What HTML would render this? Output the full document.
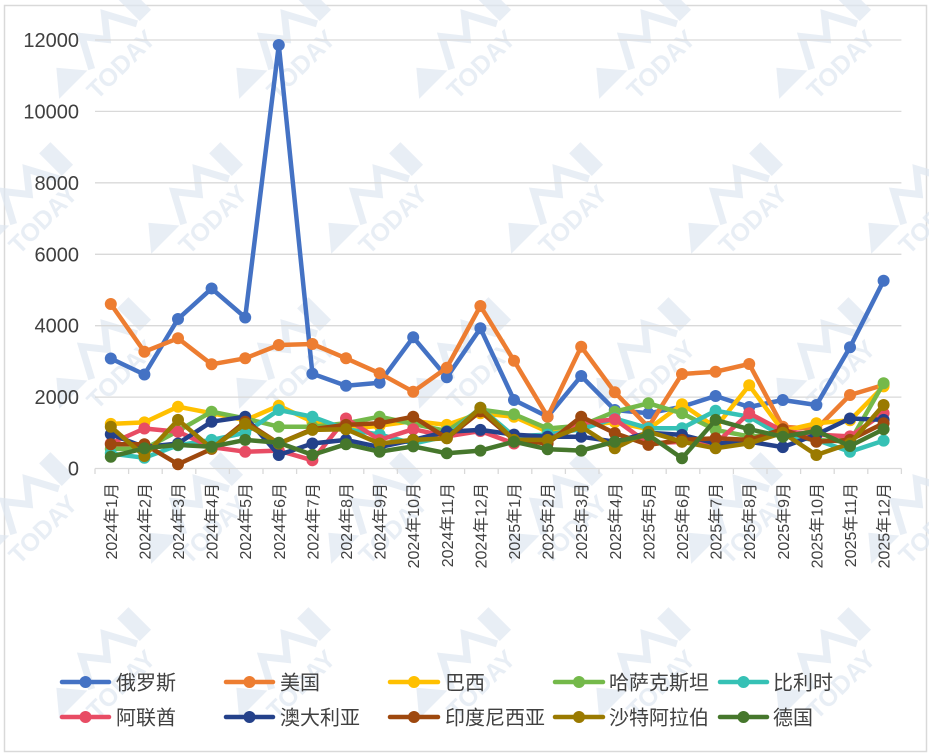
<!DOCTYPE html>
<html><head><meta charset="utf-8"><style>
html,body{margin:0;padding:0;background:#fff;}
svg{display:block;}
text{font-family:"Liberation Sans","Noto Sans CJK SC",sans-serif;}
</style></head><body>
<svg width="929" height="755" viewBox="0 0 929 755" xmlns="http://www.w3.org/2000/svg">
<rect x="0" y="0" width="929" height="755" fill="#fff"/>
<rect x="4.5" y="5.5" width="922" height="746" fill="none" stroke="#d9d9d9" stroke-width="1.5"/>

<!-- watermarks -->
<g fill="#dfe7f1" opacity="0.7">
<g transform="translate(103,55) rotate(-45)"><path d="M-62,0 L-42,-24 L-22,0 Z"/><path d="M-18,2 L-2,-28 L14,-8 L30,-28 L46,2" fill="none" stroke="#dfe7f1" stroke-width="7"/><rect x="50" y="-30" width="16" height="32"/><text x="6" y="28" font-size="25" font-weight="bold" text-anchor="middle">TODAY</text></g>
<g transform="translate(283,55) rotate(-45)"><path d="M-62,0 L-42,-24 L-22,0 Z"/><path d="M-18,2 L-2,-28 L14,-8 L30,-28 L46,2" fill="none" stroke="#dfe7f1" stroke-width="7"/><rect x="50" y="-30" width="16" height="32"/><text x="6" y="28" font-size="25" font-weight="bold" text-anchor="middle">TODAY</text></g>
<g transform="translate(463,55) rotate(-45)"><path d="M-62,0 L-42,-24 L-22,0 Z"/><path d="M-18,2 L-2,-28 L14,-8 L30,-28 L46,2" fill="none" stroke="#dfe7f1" stroke-width="7"/><rect x="50" y="-30" width="16" height="32"/><text x="6" y="28" font-size="25" font-weight="bold" text-anchor="middle">TODAY</text></g>
<g transform="translate(643,55) rotate(-45)"><path d="M-62,0 L-42,-24 L-22,0 Z"/><path d="M-18,2 L-2,-28 L14,-8 L30,-28 L46,2" fill="none" stroke="#dfe7f1" stroke-width="7"/><rect x="50" y="-30" width="16" height="32"/><text x="6" y="28" font-size="25" font-weight="bold" text-anchor="middle">TODAY</text></g>
<g transform="translate(823,55) rotate(-45)"><path d="M-62,0 L-42,-24 L-22,0 Z"/><path d="M-18,2 L-2,-28 L14,-8 L30,-28 L46,2" fill="none" stroke="#dfe7f1" stroke-width="7"/><rect x="50" y="-30" width="16" height="32"/><text x="6" y="28" font-size="25" font-weight="bold" text-anchor="middle">TODAY</text></g>

<g transform="translate(25,210) rotate(-45)"><path d="M-62,0 L-42,-24 L-22,0 Z"/><path d="M-18,2 L-2,-28 L14,-8 L30,-28 L46,2" fill="none" stroke="#dfe7f1" stroke-width="7"/><rect x="50" y="-30" width="16" height="32"/><text x="6" y="28" font-size="25" font-weight="bold" text-anchor="middle">TODAY</text></g>
<g transform="translate(195,210) rotate(-45)"><path d="M-62,0 L-42,-24 L-22,0 Z"/><path d="M-18,2 L-2,-28 L14,-8 L30,-28 L46,2" fill="none" stroke="#dfe7f1" stroke-width="7"/><rect x="50" y="-30" width="16" height="32"/><text x="6" y="28" font-size="25" font-weight="bold" text-anchor="middle">TODAY</text></g>
<g transform="translate(375,210) rotate(-45)"><path d="M-62,0 L-42,-24 L-22,0 Z"/><path d="M-18,2 L-2,-28 L14,-8 L30,-28 L46,2" fill="none" stroke="#dfe7f1" stroke-width="7"/><rect x="50" y="-30" width="16" height="32"/><text x="6" y="28" font-size="25" font-weight="bold" text-anchor="middle">TODAY</text></g>
<g transform="translate(555,210) rotate(-45)"><path d="M-62,0 L-42,-24 L-22,0 Z"/><path d="M-18,2 L-2,-28 L14,-8 L30,-28 L46,2" fill="none" stroke="#dfe7f1" stroke-width="7"/><rect x="50" y="-30" width="16" height="32"/><text x="6" y="28" font-size="25" font-weight="bold" text-anchor="middle">TODAY</text></g>
<g transform="translate(735,210) rotate(-45)"><path d="M-62,0 L-42,-24 L-22,0 Z"/><path d="M-18,2 L-2,-28 L14,-8 L30,-28 L46,2" fill="none" stroke="#dfe7f1" stroke-width="7"/><rect x="50" y="-30" width="16" height="32"/><text x="6" y="28" font-size="25" font-weight="bold" text-anchor="middle">TODAY</text></g>
<g transform="translate(915,210) rotate(-45)"><path d="M-62,0 L-42,-24 L-22,0 Z"/><path d="M-18,2 L-2,-28 L14,-8 L30,-28 L46,2" fill="none" stroke="#dfe7f1" stroke-width="7"/><rect x="50" y="-30" width="16" height="32"/><text x="6" y="28" font-size="25" font-weight="bold" text-anchor="middle">TODAY</text></g>

<g transform="translate(103,365) rotate(-45)"><path d="M-62,0 L-42,-24 L-22,0 Z"/><path d="M-18,2 L-2,-28 L14,-8 L30,-28 L46,2" fill="none" stroke="#dfe7f1" stroke-width="7"/><rect x="50" y="-30" width="16" height="32"/><text x="6" y="28" font-size="25" font-weight="bold" text-anchor="middle">TODAY</text></g>
<g transform="translate(283,365) rotate(-45)"><path d="M-62,0 L-42,-24 L-22,0 Z"/><path d="M-18,2 L-2,-28 L14,-8 L30,-28 L46,2" fill="none" stroke="#dfe7f1" stroke-width="7"/><rect x="50" y="-30" width="16" height="32"/><text x="6" y="28" font-size="25" font-weight="bold" text-anchor="middle">TODAY</text></g>
<g transform="translate(463,365) rotate(-45)"><path d="M-62,0 L-42,-24 L-22,0 Z"/><path d="M-18,2 L-2,-28 L14,-8 L30,-28 L46,2" fill="none" stroke="#dfe7f1" stroke-width="7"/><rect x="50" y="-30" width="16" height="32"/><text x="6" y="28" font-size="25" font-weight="bold" text-anchor="middle">TODAY</text></g>
<g transform="translate(643,365) rotate(-45)"><path d="M-62,0 L-42,-24 L-22,0 Z"/><path d="M-18,2 L-2,-28 L14,-8 L30,-28 L46,2" fill="none" stroke="#dfe7f1" stroke-width="7"/><rect x="50" y="-30" width="16" height="32"/><text x="6" y="28" font-size="25" font-weight="bold" text-anchor="middle">TODAY</text></g>
<g transform="translate(823,365) rotate(-45)"><path d="M-62,0 L-42,-24 L-22,0 Z"/><path d="M-18,2 L-2,-28 L14,-8 L30,-28 L46,2" fill="none" stroke="#dfe7f1" stroke-width="7"/><rect x="50" y="-30" width="16" height="32"/><text x="6" y="28" font-size="25" font-weight="bold" text-anchor="middle">TODAY</text></g>

<g transform="translate(25,520) rotate(-45)"><path d="M-62,0 L-42,-24 L-22,0 Z"/><path d="M-18,2 L-2,-28 L14,-8 L30,-28 L46,2" fill="none" stroke="#dfe7f1" stroke-width="7"/><rect x="50" y="-30" width="16" height="32"/><text x="6" y="28" font-size="25" font-weight="bold" text-anchor="middle">TODAY</text></g>
<g transform="translate(195,520) rotate(-45)"><path d="M-62,0 L-42,-24 L-22,0 Z"/><path d="M-18,2 L-2,-28 L14,-8 L30,-28 L46,2" fill="none" stroke="#dfe7f1" stroke-width="7"/><rect x="50" y="-30" width="16" height="32"/><text x="6" y="28" font-size="25" font-weight="bold" text-anchor="middle">TODAY</text></g>
<g transform="translate(375,520) rotate(-45)"><path d="M-62,0 L-42,-24 L-22,0 Z"/><path d="M-18,2 L-2,-28 L14,-8 L30,-28 L46,2" fill="none" stroke="#dfe7f1" stroke-width="7"/><rect x="50" y="-30" width="16" height="32"/><text x="6" y="28" font-size="25" font-weight="bold" text-anchor="middle">TODAY</text></g>
<g transform="translate(555,520) rotate(-45)"><path d="M-62,0 L-42,-24 L-22,0 Z"/><path d="M-18,2 L-2,-28 L14,-8 L30,-28 L46,2" fill="none" stroke="#dfe7f1" stroke-width="7"/><rect x="50" y="-30" width="16" height="32"/><text x="6" y="28" font-size="25" font-weight="bold" text-anchor="middle">TODAY</text></g>
<g transform="translate(735,520) rotate(-45)"><path d="M-62,0 L-42,-24 L-22,0 Z"/><path d="M-18,2 L-2,-28 L14,-8 L30,-28 L46,2" fill="none" stroke="#dfe7f1" stroke-width="7"/><rect x="50" y="-30" width="16" height="32"/><text x="6" y="28" font-size="25" font-weight="bold" text-anchor="middle">TODAY</text></g>
<g transform="translate(915,520) rotate(-45)"><path d="M-62,0 L-42,-24 L-22,0 Z"/><path d="M-18,2 L-2,-28 L14,-8 L30,-28 L46,2" fill="none" stroke="#dfe7f1" stroke-width="7"/><rect x="50" y="-30" width="16" height="32"/><text x="6" y="28" font-size="25" font-weight="bold" text-anchor="middle">TODAY</text></g>

<g transform="translate(103,675) rotate(-45)"><path d="M-62,0 L-42,-24 L-22,0 Z"/><path d="M-18,2 L-2,-28 L14,-8 L30,-28 L46,2" fill="none" stroke="#dfe7f1" stroke-width="7"/><rect x="50" y="-30" width="16" height="32"/><text x="6" y="28" font-size="25" font-weight="bold" text-anchor="middle">TODAY</text></g>
<g transform="translate(283,675) rotate(-45)"><path d="M-62,0 L-42,-24 L-22,0 Z"/><path d="M-18,2 L-2,-28 L14,-8 L30,-28 L46,2" fill="none" stroke="#dfe7f1" stroke-width="7"/><rect x="50" y="-30" width="16" height="32"/><text x="6" y="28" font-size="25" font-weight="bold" text-anchor="middle">TODAY</text></g>
<g transform="translate(463,675) rotate(-45)"><path d="M-62,0 L-42,-24 L-22,0 Z"/><path d="M-18,2 L-2,-28 L14,-8 L30,-28 L46,2" fill="none" stroke="#dfe7f1" stroke-width="7"/><rect x="50" y="-30" width="16" height="32"/><text x="6" y="28" font-size="25" font-weight="bold" text-anchor="middle">TODAY</text></g>
<g transform="translate(643,675) rotate(-45)"><path d="M-62,0 L-42,-24 L-22,0 Z"/><path d="M-18,2 L-2,-28 L14,-8 L30,-28 L46,2" fill="none" stroke="#dfe7f1" stroke-width="7"/><rect x="50" y="-30" width="16" height="32"/><text x="6" y="28" font-size="25" font-weight="bold" text-anchor="middle">TODAY</text></g>
<g transform="translate(823,675) rotate(-45)"><path d="M-62,0 L-42,-24 L-22,0 Z"/><path d="M-18,2 L-2,-28 L14,-8 L30,-28 L46,2" fill="none" stroke="#dfe7f1" stroke-width="7"/><rect x="50" y="-30" width="16" height="32"/><text x="6" y="28" font-size="25" font-weight="bold" text-anchor="middle">TODAY</text></g>
</g>

<!-- gridlines -->
<g stroke="#d9d9d9" stroke-width="1.3">
<line x1="95" y1="40" x2="901.4" y2="40"/>
<line x1="95" y1="111.4" x2="901.4" y2="111.4"/>
<line x1="95" y1="182.8" x2="901.4" y2="182.8"/>
<line x1="95" y1="254.3" x2="901.4" y2="254.3"/>
<line x1="95" y1="325.7" x2="901.4" y2="325.7"/>
<line x1="95" y1="397.1" x2="901.4" y2="397.1"/>
<line x1="95" y1="468.5" x2="901.4" y2="468.5"/>
</g>
<g stroke="#d9d9d9" stroke-width="1.3">
<line x1="95" y1="468.5" x2="95" y2="474"/><line x1="128.6" y1="468.5" x2="128.6" y2="474"/><line x1="162.2" y1="468.5" x2="162.2" y2="474"/><line x1="195.8" y1="468.5" x2="195.8" y2="474"/><line x1="229.4" y1="468.5" x2="229.4" y2="474"/><line x1="263" y1="468.5" x2="263" y2="474"/><line x1="296.6" y1="468.5" x2="296.6" y2="474"/><line x1="330.2" y1="468.5" x2="330.2" y2="474"/><line x1="363.8" y1="468.5" x2="363.8" y2="474"/><line x1="397.4" y1="468.5" x2="397.4" y2="474"/><line x1="431" y1="468.5" x2="431" y2="474"/><line x1="464.6" y1="468.5" x2="464.6" y2="474"/><line x1="498.2" y1="468.5" x2="498.2" y2="474"/><line x1="531.8" y1="468.5" x2="531.8" y2="474"/><line x1="565.4" y1="468.5" x2="565.4" y2="474"/><line x1="599" y1="468.5" x2="599" y2="474"/><line x1="632.6" y1="468.5" x2="632.6" y2="474"/><line x1="666.2" y1="468.5" x2="666.2" y2="474"/><line x1="699.8" y1="468.5" x2="699.8" y2="474"/><line x1="733.4" y1="468.5" x2="733.4" y2="474"/><line x1="767" y1="468.5" x2="767" y2="474"/><line x1="800.6" y1="468.5" x2="800.6" y2="474"/><line x1="834.2" y1="468.5" x2="834.2" y2="474"/><line x1="867.8" y1="468.5" x2="867.8" y2="474"/><line x1="901.4" y1="468.5" x2="901.4" y2="474"/>
</g>

<!-- y labels -->
<g fill="#404040" font-size="20" text-anchor="end">
<text x="79" y="47">12000</text>
<text x="79" y="118.4">10000</text>
<text x="79" y="189.8">8000</text>
<text x="79" y="261.3">6000</text>
<text x="79" y="332.7">4000</text>
<text x="79" y="404.1">2000</text>
<text x="79" y="475.5">0</text>
</g>

<!-- x labels -->
<g fill="#404040" font-size="16" text-anchor="end">
<text transform="translate(116.8,483) rotate(-90)">2024年1月</text>
<text transform="translate(150.4,483) rotate(-90)">2024年2月</text>
<text transform="translate(184,483) rotate(-90)">2024年3月</text>
<text transform="translate(217.6,483) rotate(-90)">2024年4月</text>
<text transform="translate(251.2,483) rotate(-90)">2024年5月</text>
<text transform="translate(284.8,483) rotate(-90)">2024年6月</text>
<text transform="translate(318.4,483) rotate(-90)">2024年7月</text>
<text transform="translate(352,483) rotate(-90)">2024年8月</text>
<text transform="translate(385.6,483) rotate(-90)">2024年9月</text>
<text transform="translate(419.2,483) rotate(-90)">2024年10月</text>
<text transform="translate(452.8,483) rotate(-90)">2024年11月</text>
<text transform="translate(486.4,483) rotate(-90)">2024年12月</text>
<text transform="translate(520,483) rotate(-90)">2025年1月</text>
<text transform="translate(553.6,483) rotate(-90)">2025年2月</text>
<text transform="translate(587.2,483) rotate(-90)">2025年3月</text>
<text transform="translate(620.8,483) rotate(-90)">2025年4月</text>
<text transform="translate(654.4,483) rotate(-90)">2025年5月</text>
<text transform="translate(688,483) rotate(-90)">2025年6月</text>
<text transform="translate(721.6,483) rotate(-90)">2025年7月</text>
<text transform="translate(755.2,483) rotate(-90)">2025年8月</text>
<text transform="translate(788.8,483) rotate(-90)">2025年9月</text>
<text transform="translate(822.4,483) rotate(-90)">2025年10月</text>
<text transform="translate(856,483) rotate(-90)">2025年11月</text>
<text transform="translate(889.6,483) rotate(-90)">2025年12月</text>
</g>

<defs>
<marker id="m0" markerUnits="userSpaceOnUse" markerWidth="14" markerHeight="14" refX="7" refY="7"><circle cx="7" cy="7" r="6" fill="#4472C4"/></marker>
<marker id="m1" markerUnits="userSpaceOnUse" markerWidth="14" markerHeight="14" refX="7" refY="7"><circle cx="7" cy="7" r="6" fill="#ED7D31"/></marker>
<marker id="m2" markerUnits="userSpaceOnUse" markerWidth="14" markerHeight="14" refX="7" refY="7"><circle cx="7" cy="7" r="6" fill="#FFC000"/></marker>
<marker id="m3" markerUnits="userSpaceOnUse" markerWidth="14" markerHeight="14" refX="7" refY="7"><circle cx="7" cy="7" r="6" fill="#74B94A"/></marker>
<marker id="m4" markerUnits="userSpaceOnUse" markerWidth="14" markerHeight="14" refX="7" refY="7"><circle cx="7" cy="7" r="6" fill="#36C1B5"/></marker>
<marker id="m5" markerUnits="userSpaceOnUse" markerWidth="14" markerHeight="14" refX="7" refY="7"><circle cx="7" cy="7" r="6" fill="#E84C64"/></marker>
<marker id="m6" markerUnits="userSpaceOnUse" markerWidth="14" markerHeight="14" refX="7" refY="7"><circle cx="7" cy="7" r="6" fill="#24418A"/></marker>
<marker id="m7" markerUnits="userSpaceOnUse" markerWidth="14" markerHeight="14" refX="7" refY="7"><circle cx="7" cy="7" r="6" fill="#9E480E"/></marker>
<marker id="m8" markerUnits="userSpaceOnUse" markerWidth="14" markerHeight="14" refX="7" refY="7"><circle cx="7" cy="7" r="6" fill="#9A7A00"/></marker>
<marker id="m9" markerUnits="userSpaceOnUse" markerWidth="14" markerHeight="14" refX="7" refY="7"><circle cx="7" cy="7" r="6" fill="#46772C"/></marker>
</defs>

<g fill="none" stroke-width="4.5" stroke-linejoin="round" stroke-linecap="round">
<polyline stroke="#4472C4" marker-start="url(#m0)" marker-mid="url(#m0)" marker-end="url(#m0)" points="110.8,358.5 144.4,374.5 178,319 211.6,288.5 245.2,317.5 278.8,45 312.4,373.7 346,385.7 379.6,382.7 413.2,337.3 446.8,377.3 480.4,328.3 514,400 547.6,416.7 581.2,376 614.8,410 648.4,413.3 682,406.7 715.6,396 749.2,407 782.8,400 816.4,405 850,347.3 883.6,280.7"/>
<polyline stroke="#ED7D31" marker-start="url(#m1)" marker-mid="url(#m1)" marker-end="url(#m1)" points="110.8,304 144.4,351.7 178,338.3 211.6,364.3 245.2,358.3 278.8,345 312.4,344 346,358.3 379.6,373.3 413.2,391.7 446.8,367.7 480.4,306 514,360.7 547.6,416.7 581.2,346.7 614.8,392.3 648.4,427 682,374 715.6,371.7 749.2,364 782.8,426.7 816.4,429 850,395 883.6,385"/>
<polyline stroke="#FFC000" marker-start="url(#m2)" marker-mid="url(#m2)" marker-end="url(#m2)" points="110.8,423.9 144.4,422.4 178,406.7 211.6,413.2 245.2,420.3 278.8,405.7 312.4,421.7 346,429.2 379.6,425.7 413.2,421 446.8,424.9 480.4,413.2 514,416.7 547.6,431.7 581.2,425.7 614.8,422.1 648.4,429.2 682,404.2 715.6,427.4 749.2,385.3 782.8,431 816.4,423.3 850,420.3 883.6,386.4"/>
<polyline stroke="#74B94A" marker-start="url(#m3)" marker-mid="url(#m3)" marker-end="url(#m3)" points="110.8,448.9 144.4,448.9 178,431 211.6,411.7 245.2,418.5 278.8,426.7 312.4,426.7 346,423.3 379.6,416.7 413.2,423.9 446.8,431 480.4,409.6 514,414.2 547.6,428.5 581.2,425.7 614.8,411.7 648.4,403.3 682,413.3 715.6,429.9 749.2,436.4 782.8,434.6 816.4,439.9 850,441.7 883.6,383.2"/>
<polyline stroke="#36C1B5" marker-start="url(#m4)" marker-mid="url(#m4)" marker-end="url(#m4)" points="110.8,453.5 144.4,457.8 178,445.3 211.6,439.9 245.2,432.8 278.8,410 312.4,416.7 346,429.2 379.6,434.6 413.2,443.5 446.8,436.4 480.4,407.8 514,436.4 547.6,434.6 581.2,429.2 614.8,418.5 648.4,428.2 682,428.2 715.6,410.7 749.2,416.7 782.8,436.4 816.4,439.9 850,451.7 883.6,440.6"/>
<polyline stroke="#E84C64" marker-start="url(#m5)" marker-mid="url(#m5)" marker-end="url(#m5)" points="110.8,443.5 144.4,428.5 178,431.7 211.6,447.1 245.2,451.7 278.8,450.6 312.4,460.3 346,418.5 379.6,439.9 413.2,429.2 446.8,436.4 480.4,431 514,443.5 547.6,439.9 581.2,423.3 614.8,419.2 648.4,443.5 682,441.7 715.6,443.5 749.2,413.3 782.8,431 816.4,434.6 850,436.4 883.6,413.3"/>
<polyline stroke="#24418A" marker-start="url(#m6)" marker-mid="url(#m6)" marker-end="url(#m6)" points="110.8,434.2 144.4,447.1 178,443.5 211.6,421.7 245.2,416.7 278.8,455 312.4,443.5 346,439.9 379.6,447.1 413.2,439.9 446.8,431.7 480.4,429.9 514,434.6 547.6,436.7 581.2,436.7 614.8,441.7 648.4,432.8 682,434.9 715.6,443.5 749.2,441.7 782.8,447.1 816.4,434.6 850,418.5 883.6,419.9"/>
<polyline stroke="#9E480E" marker-start="url(#m7)" marker-mid="url(#m7)" marker-end="url(#m7)" points="110.8,444.2 144.4,444.2 178,464.2 211.6,448.9 245.2,421.7 278.8,443.5 312.4,429.2 346,424.9 379.6,423.3 413.2,416.7 446.8,438.1 480.4,411.4 514,439.9 547.6,443.5 581.2,416.7 614.8,433.1 648.4,444.9 682,439.9 715.6,438.3 749.2,439.9 782.8,429.2 816.4,441.7 850,439.9 883.6,423.3"/>
<polyline stroke="#9A7A00" marker-start="url(#m8)" marker-mid="url(#m8)" marker-end="url(#m8)" points="110.8,426.7 144.4,456 178,419.9 211.6,448.3 245.2,423.9 278.8,443.5 312.4,429.9 346,429.2 379.6,443.5 413.2,439.9 446.8,438.3 480.4,407.8 514,439.9 547.6,439.9 581.2,426.7 614.8,448.3 648.4,431.7 682,441.7 715.6,448.3 749.2,443.3 782.8,432.8 816.4,455 850,443.5 883.6,405"/>
<polyline stroke="#46772C" marker-start="url(#m9)" marker-mid="url(#m9)" marker-end="url(#m9)" points="110.8,456.7 144.4,448.3 178,444.9 211.6,446.7 245.2,439.9 278.8,442.8 312.4,454.9 346,444.2 379.6,451.7 413.2,446.4 446.8,453.3 480.4,450.6 514,441.7 547.6,449.2 581.2,450.6 614.8,441.7 648.4,434.9 682,458.3 715.6,419.9 749.2,429.2 782.8,436.7 816.4,431 850,446 883.6,429.2"/>
</g>

<!-- legend -->
<g stroke-width="4.5" stroke-linecap="round">
<line x1="62" y1="682" x2="109" y2="682" stroke="#4472C4"/><circle cx="85.5" cy="682" r="6" fill="#4472C4"/>
<line x1="226" y1="682" x2="273" y2="682" stroke="#ED7D31"/><circle cx="249.5" cy="682" r="6" fill="#ED7D31"/>
<line x1="390" y1="682" x2="438" y2="682" stroke="#FFC000"/><circle cx="414" cy="682" r="6" fill="#FFC000"/>
<line x1="555" y1="682" x2="603" y2="682" stroke="#74B94A"/><circle cx="579" cy="682" r="6" fill="#74B94A"/>
<line x1="720" y1="682" x2="767" y2="682" stroke="#36C1B5"/><circle cx="743.5" cy="682" r="6" fill="#36C1B5"/>
<line x1="62" y1="717" x2="109" y2="717" stroke="#E84C64"/><circle cx="85.5" cy="717" r="6" fill="#E84C64"/>
<line x1="226" y1="717" x2="273" y2="717" stroke="#24418A"/><circle cx="249.5" cy="717" r="6" fill="#24418A"/>
<line x1="390" y1="717" x2="438" y2="717" stroke="#9E480E"/><circle cx="414" cy="717" r="6" fill="#9E480E"/>
<line x1="555" y1="717" x2="603" y2="717" stroke="#9A7A00"/><circle cx="579" cy="717" r="6" fill="#9A7A00"/>
<line x1="720" y1="717" x2="767" y2="717" stroke="#46772C"/><circle cx="743.5" cy="717" r="6" fill="#46772C"/>
</g>
<g fill="#404040" font-size="20">
<text x="116" y="689.5">俄罗斯</text>
<text x="280" y="689.5">美国</text>
<text x="445" y="689.5">巴西</text>
<text x="609" y="689.5">哈萨克斯坦</text>
<text x="773" y="689.5">比利时</text>
<text x="116" y="724.5">阿联酋</text>
<text x="280" y="724.5">澳大利亚</text>
<text x="445" y="724.5">印度尼西亚</text>
<text x="609" y="724.5">沙特阿拉伯</text>
<text x="773" y="724.5">德国</text>
</g>
</svg>
</body></html>
